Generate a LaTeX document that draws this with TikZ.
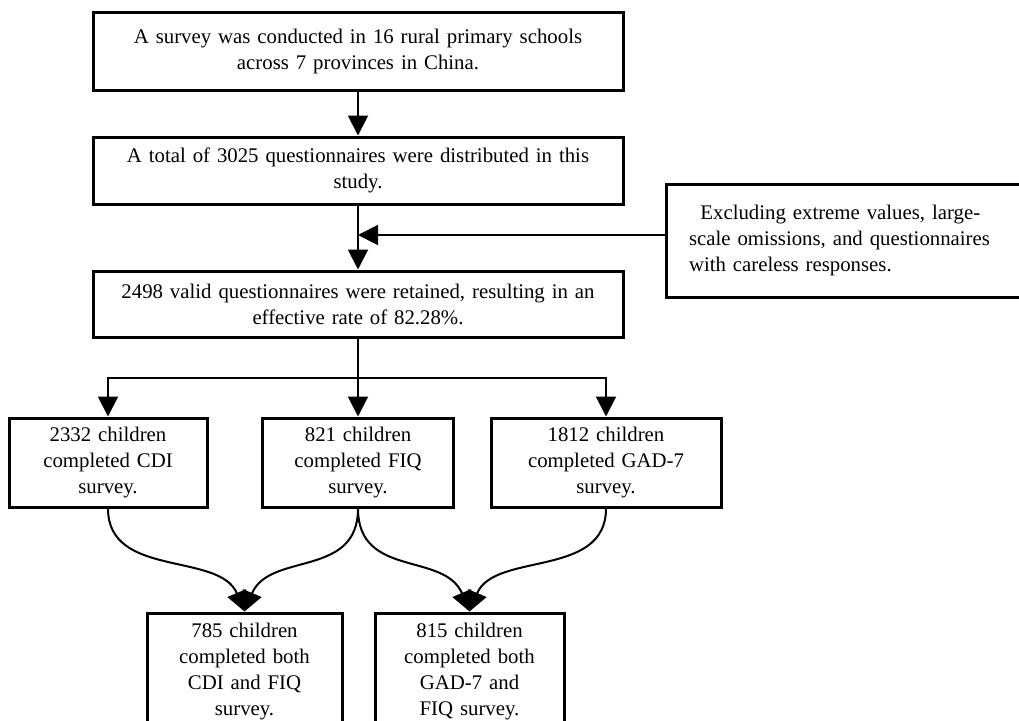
\documentclass[tikz,border=0pt]{standalone}
\usepackage{fontspec}
\setmainfont{Liberation Serif}
\usetikzlibrary{arrows.meta}
\usetikzlibrary{positioning}

\begin{document}
\begin{tikzpicture}[
    x=1pt, y=-1pt,
    font=\fontsize{20.8}{26}\selectfont
]
\tikzset{
    mybox/.style = {rectangle, draw=black, line width=3pt, align=center, inner sep=0pt},
    edgen/.style = {-{Triangle[length=20pt,width=20pt]}, line width=2pt},
    linen/.style = {line width=2pt}
}
\useasboundingbox (0,0) rectangle (1019,720);
\node[mybox, minimum width=530, minimum height=78, text width=510pt] at (358,51) (survey) {A survey was conducted in 16 rural primary schools\\across 7 provinces in China.};
\node[mybox, minimum width=530, minimum height=67, text width=510pt] at (358,170.5) (total) {A total of 3025 questionnaires were distributed in this\\study.};
\node[mybox, minimum width=356, minimum height=113, text width=310pt, align=left] at (844,240.5) (excl) {\hspace{0.55em}Excluding extreme values, large-\\scale omissions, and questionnaires\\with careless responses.};
\node[mybox, minimum width=530, minimum height=66, text width=510pt] at (358,304) (retained) {2498 valid questionnaires were retained, resulting in an\\effective rate of 82.28\%.};
\node[mybox, minimum width=198, minimum height=89, text width=188pt] at (108,462.5) (cdi) {2332 children\\completed CDI\\survey.};
\node[mybox, minimum width=191, minimum height=89, text width=181pt] at (358,462.5) (fiq) {821 children\\completed FIQ\\survey.};
\node[mybox, minimum width=230, minimum height=89, text width=220pt] at (606,462.5) (gad) {1812 children\\completed GAD-7\\survey.};
\node[mybox, minimum width=195, minimum height=117, text width=185pt] at (244.5,671.5) (bothcf) {785 children\\completed both\\CDI and FIQ\\survey.};
\node[mybox, minimum width=189, minimum height=117, text width=179pt] at (469.5,671.5) (bothgf) {815 children\\completed both\\GAD-7 and\\FIQ survey.};
\coordinate (join) at (358,235);
\coordinate (split) at (358,378);
\draw[edgen] (survey.south) -- (total.north);
\draw[edgen] (total.south) -- (retained.north);
\draw[edgen] (excl.west |- join) -- (join);
\draw[linen] (retained.south) -- (split);
\draw[edgen] (split) -- (fiq.north);
\draw[edgen] (split) -| (cdi.north);
\draw[edgen] (split) -| (gad.north);
\draw[edgen] (cdi.south) .. controls +(0,70) and +(-25,-60) .. (bothcf.north);
\draw[edgen] (fiq.south) .. controls +(0,70) and +(25,-60) .. (bothcf.north);
\draw[edgen] (fiq.south) .. controls +(0,70) and +(-25,-60) .. (bothgf.north);
\draw[edgen] (gad.south) .. controls +(0,70) and +(25,-60) .. (bothgf.north);
\end{tikzpicture}
\end{document}
